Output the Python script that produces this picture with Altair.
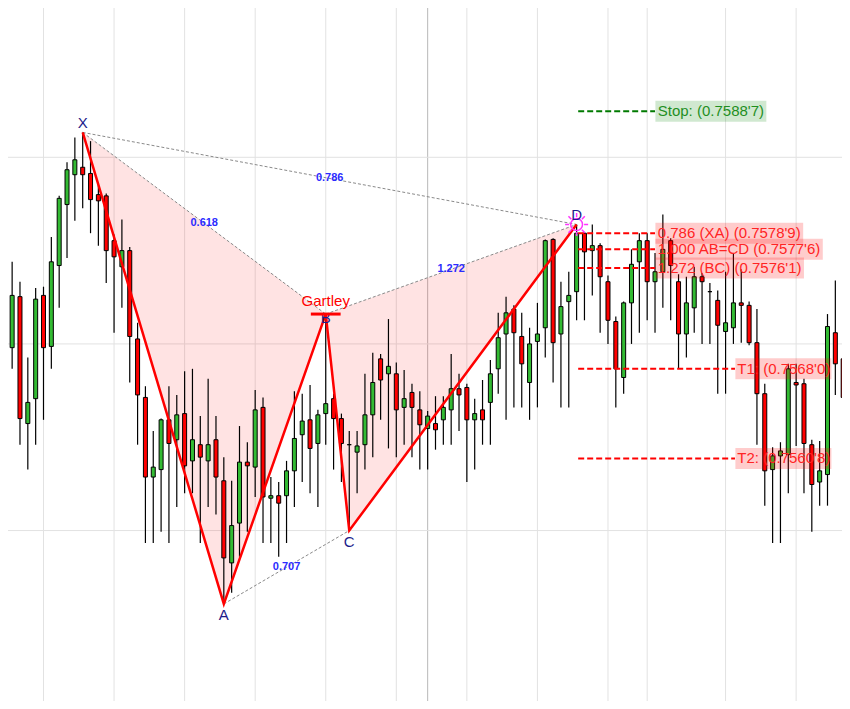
import altair as alt
import pandas as pd

# ---------------- candle data (price) ----------------
opens = [0.75680, 0.75697, 0.75738, 0.75636, 0.75656, 0.75739, 0.75698, 0.75763, 0.75812, 0.75836,
         0.75842, 0.75837, 0.75820, 0.75819, 0.75783, 0.75762, 0.75775, 0.75704, 0.75657, 0.75593,
         0.75599, 0.75639, 0.75623, 0.75644, 0.75606, 0.75619, 0.75606, 0.75623, 0.75590, 0.75524,
         0.75556, 0.75605, 0.75601, 0.75649, 0.75576, 0.75578, 0.75578, 0.75598, 0.75627, 0.75639,
         0.75620, 0.75644, 0.75656, 0.75640, 0.75619, 0.75613, 0.75619, 0.75643, 0.75688, 0.75676,
         0.75676, 0.75649, 0.75661, 0.75647, 0.75632, 0.75636, 0.75639, 0.75647, 0.75664, 0.75665,
         0.75639, 0.75647, 0.75653, 0.75680, 0.75708, 0.75728, 0.75706, 0.75669, 0.75702, 0.75713,
         0.75784, 0.75708, 0.75734, 0.75742, 0.75789, 0.75775, 0.75779, 0.75750, 0.75718, 0.75673,
         0.75733, 0.75766, 0.75783, 0.75750, 0.75758, 0.75783, 0.75750, 0.75708, 0.75729, 0.75754,
         0.75742, 0.75735, 0.75710, 0.75713, 0.75733, 0.75731, 0.75701, 0.75660, 0.75599, 0.75610,
         0.75611, 0.75669, 0.75668, 0.75619, 0.75589, 0.75595, 0.75709, 0.75688, 0.75657]
highs = [0.75701, 0.75766, 0.75750, 0.75689, 0.75745, 0.75746, 0.75786, 0.75819, 0.75846, 0.75866,
         0.75870, 0.75863, 0.75829, 0.75821, 0.75788, 0.75800, 0.75778, 0.75717, 0.75666, 0.75630,
         0.75640, 0.75666, 0.75659, 0.75678, 0.75680, 0.75642, 0.75672, 0.75642, 0.75609, 0.75590,
         0.75634, 0.75621, 0.75663, 0.75657, 0.75593, 0.75589, 0.75606, 0.75662, 0.75660, 0.75667,
         0.75647, 0.75724, 0.75660, 0.75644, 0.75630, 0.75630, 0.75676, 0.75693, 0.75692, 0.75720,
         0.75685, 0.75679, 0.75668, 0.75662, 0.75646, 0.75658, 0.75658, 0.75692, 0.75676, 0.75668,
         0.75656, 0.75671, 0.75687, 0.75725, 0.75738, 0.75731, 0.75725, 0.75713, 0.75733, 0.75784,
         0.75785, 0.75750, 0.75758, 0.75796, 0.75790, 0.75796, 0.75781, 0.75755, 0.75722, 0.75734,
         0.75776, 0.75789, 0.75789, 0.75773, 0.75804, 0.75785, 0.75756, 0.75754, 0.75762, 0.75757,
         0.75749, 0.75743, 0.75758, 0.75773, 0.75760, 0.75734, 0.75728, 0.75668, 0.75617, 0.75621,
         0.75684, 0.75684, 0.75672, 0.75623, 0.75622, 0.75724, 0.75751, 0.75690, 0.75703]
lows = [0.75619, 0.75680, 0.75619, 0.75599, 0.75619, 0.75639, 0.75680, 0.75729, 0.75769, 0.75799,
        0.75809, 0.75789, 0.75779, 0.75749, 0.75709, 0.75729, 0.75669, 0.75619, 0.75540, 0.75540,
        0.75549, 0.75540, 0.75569, 0.75580, 0.75580, 0.75540, 0.75569, 0.75563, 0.75491, 0.75500,
        0.75529, 0.75549, 0.75577, 0.75540, 0.75540, 0.75529, 0.75540, 0.75569, 0.75589, 0.75580,
        0.75569, 0.75619, 0.75599, 0.75589, 0.75550, 0.75580, 0.75599, 0.75609, 0.75639, 0.75616,
        0.75609, 0.75619, 0.75609, 0.75599, 0.75599, 0.75615, 0.75619, 0.75619, 0.75630, 0.75589,
        0.75599, 0.75619, 0.75619, 0.75660, 0.75639, 0.75649, 0.75649, 0.75639, 0.75649, 0.75689,
        0.75669, 0.75649, 0.75649, 0.75719, 0.75719, 0.75739, 0.75709, 0.75700, 0.75649, 0.75660,
        0.75700, 0.75709, 0.75719, 0.75709, 0.75729, 0.75719, 0.75680, 0.75689, 0.75709, 0.75700,
        0.75700, 0.75660, 0.75660, 0.75700, 0.75701, 0.75699, 0.75619, 0.75570, 0.75540, 0.75540,
        0.75580, 0.75618, 0.75580, 0.75549, 0.75570, 0.75570, 0.75659, 0.75620, 0.75639]
closes = [0.75696, 0.75739, 0.75640, 0.75653, 0.75736, 0.75697, 0.75766, 0.75817, 0.75840, 0.75848,
          0.75836, 0.75816, 0.75815, 0.75775, 0.75770, 0.75775, 0.75706, 0.75659, 0.75593, 0.75601,
          0.75639, 0.75620, 0.75643, 0.75602, 0.75623, 0.75609, 0.75619, 0.75593, 0.75528, 0.75554,
          0.75605, 0.75602, 0.75647, 0.75577, 0.75578, 0.75572, 0.75598, 0.75624, 0.75638, 0.75616,
          0.75643, 0.75652, 0.75640, 0.75620, 0.75619, 0.75618, 0.75643, 0.75669, 0.75671, 0.75682,
          0.75647, 0.75656, 0.75649, 0.75635, 0.75642, 0.75631, 0.75649, 0.75664, 0.75659, 0.75639,
          0.75644, 0.75639, 0.75676, 0.75705, 0.75725, 0.75709, 0.75684, 0.75700, 0.75708, 0.75783,
          0.75701, 0.75730, 0.75739, 0.75789, 0.75774, 0.75779, 0.75754, 0.75719, 0.75680, 0.75733,
          0.75764, 0.75783, 0.75750, 0.75758, 0.75776, 0.75763, 0.75708, 0.75733, 0.75754, 0.75750,
          0.75742, 0.75715, 0.75717, 0.75733, 0.75731, 0.75701, 0.75660, 0.75598, 0.75610, 0.75614,
          0.75680, 0.75667, 0.75620, 0.75587, 0.75598, 0.75714, 0.75684, 0.75657, 0.75698]

# ---------------- harmonic pattern ----------------
pat_names = ["X", "A", "B", "C", "D"]
pat_idx = [10, 28, 41, 44, 73]
pat_price = [0.75870, 0.75491, 0.75724, 0.75550, 0.75796]
pat_pos = ["above", "below", "on", "below", "above"]

ratio_text = ["0.618", "0.786", "0.707", "1.272"]
ratio_from = ["X", "X", "A", "B"]
ratio_to = ["B", "D", "C", "D"]

# ---------------- trade levels ----------------
level_text = ["Stop: (0.7588'7)", "0.786 (XA) (0.7578'9)", "1.000 AB=CD (0.7577'6)",
              "1.272 (BC) (0.7576'1)", "T1: (0.7568'0)", "T2: (0.7560'8)"]
level_price = [0.75887, 0.75789, 0.75776, 0.75761, 0.75680, 0.75608]
level_kind = ["stop", "fib", "fib", "fib", "target", "target"]

# ---------------- grid ----------------
grid_x = [5, 14, 23, 32, 41, 50, 59, 68, 77, 82, 92, 101]
grid_x_dark = [54]
grid_y = [0.7585, 0.7570, 0.7555]

# ---------------- layout / style constants ----------------
X_DOM = [0.472, 106.85]
Y_DOM = [0.75413, 0.75970]
FONT = "Liberation Sans"
LEVEL_START = 73.2
LINE_END = {"stop": 83.0, "fib": 83.0, "target": 93.2}
TEXT_X = {"stop": 83.35, "fib": 83.35, "target": 93.5}
BOX_END = [97.2, 101.9, 104.4, 102.0, 105.5, 105.5]
LINE_COLOR = {"stop": "#007a00", "fib": "#ff0000", "target": "#ff0000"}
BOX_COLOR = {"stop": "#168a16", "fib": "#ff0000", "target": "#ff0000"}
TEXT_COLOR = {"stop": "#1f8f1f", "fib": "#ff2424", "target": "#ff2424"}
DIR_COLOR = {"up": "#33bb33", "down": "#ff0000", "flat": "#000000"}

xs = alt.Scale(domain=X_DOM, nice=False, zero=False, padding=0)
ys = alt.Scale(domain=Y_DOM, nice=False, zero=False, padding=0)


def X(f):
    return alt.X(f, scale=xs, axis=None)


def Y(f):
    return alt.Y(f, scale=ys, axis=None)


# candles table
dirs = ["up" if c > o else ("down" if c < o else "flat") for o, c in zip(opens, closes)]
candles = pd.DataFrame({"i": list(range(len(opens))), "open": opens, "high": highs,
                        "low": lows, "close": closes, "dir": dirs,
                        "fillc": [DIR_COLOR[d] for d in dirs]})

# pattern tables
pat = pd.DataFrame({"name": pat_names, "i": pat_idx, "p": pat_price, "pos": pat_pos})
pmap = {n: (i, p) for n, i, p in zip(pat_names, pat_idx, pat_price)}

seg_rows = []
for t, a, b in zip(ratio_text, ratio_from, ratio_to):
    (ia, pa), (ib, pb) = pmap[a], pmap[b]
    seg_rows.append({"i": ia, "p": pa, "i2": ib, "p2": pb, "text": t,
                     "mi": (ia + ib) / 2, "mp": (pa + pb) / 2})
segs = pd.DataFrame(seg_rows)


def tri_rows(name, a, m, b):
    (ia, pa), (im, pm), (ib, pb) = pmap[a], pmap[m], pmap[b]
    up_m = pa + (pb - pa) * (im - ia) / (ib - ia)
    return [{"tri": name, "i": ia, "upper": pa, "lower": pa},
            {"tri": name, "i": im, "upper": up_m, "lower": pm},
            {"tri": name, "i": ib, "upper": pb, "lower": pb}]


tris = pd.DataFrame(tri_rows("XAB", "X", "A", "B") + tri_rows("BCD", "B", "C", "D"))

levels = pd.DataFrame({
    "text": level_text, "p": level_price, "kind": level_kind,
    "x0": [LEVEL_START] * len(level_text),
    "x1": [LINE_END[k] for k in level_kind],
    "tx": [TEXT_X[k] for k in level_kind],
    "bx0": [LINE_END[k] + 0.05 for k in level_kind],
    "bx1": BOX_END,
    "lc": [LINE_COLOR[k] for k in level_kind],
    "bc": [BOX_COLOR[k] for k in level_kind],
    "tc": [TEXT_COLOR[k] for k in level_kind],
})

gx = pd.DataFrame({"i": grid_x})
gxd = pd.DataFrame({"i": grid_x_dark})
gy = pd.DataFrame({"p": grid_y})

# ---------------- layers ----------------
grid_v = alt.Chart(gx).mark_rule(color="#e2e2e2", strokeWidth=1).encode(x=X("i:Q"))
grid_vd = alt.Chart(gxd).mark_rule(color="#b8b8b8", strokeWidth=1).encode(x=X("i:Q"))
grid_h = alt.Chart(gy).mark_rule(color="#e2e2e2", strokeWidth=1).encode(y=Y("p:Q"))

fill = alt.Chart(tris).mark_area(color="#ff0000", opacity=0.11).encode(
    x=X("i:Q"), y=Y("upper:Q"), y2="lower:Q", detail="tri:N")

wicks = alt.Chart(candles).mark_rule(color="black", strokeWidth=1.2).encode(
    x=X("i:Q"), y=Y("low:Q"), y2="high:Q")
bodies = alt.Chart(candles).mark_bar(size=4, stroke="black", strokeWidth=1).encode(
    x=X("i:Q"), y=Y("open:Q"), y2="close:Q",
    fill=alt.Fill("fillc:N", scale=None))

dotted = alt.Chart(segs).mark_rule(color="#8a8a8a", strokeDash=[3, 2], strokeWidth=1).encode(
    x=X("i:Q"), y=Y("p:Q"), x2="i2:Q", y2="p2:Q")

zigzag = alt.Chart(pat).mark_line(color="#ff0000", strokeWidth=2.5).encode(
    x=X("i:Q"), y=Y("p:Q"), order="i:Q")

ratios = alt.Chart(segs).mark_text(font=FONT, fontSize=11, fontWeight="bold",
                                   color="#2b2bff").encode(
    x=X("mi:Q"), y=Y("mp:Q"), text="text:N")

level_lines = alt.Chart(levels).mark_rule(strokeWidth=2, strokeDash=[6, 3]).encode(
    x=X("x0:Q"), x2="x1:Q", y=Y("p:Q"),
    stroke=alt.Stroke("lc:N", scale=None))

level_boxes = alt.Chart(levels).mark_rule(strokeWidth=21, strokeCap="butt", opacity=0.2).encode(
    x=X("bx0:Q"), x2="bx1:Q", y=Y("p:Q"),
    stroke=alt.Stroke("bc:N", scale=None))

level_texts = alt.Chart(levels).mark_text(font=FONT, fontSize=15, align="left",
                                          baseline="middle").encode(
    x=X("tx:Q"), y=Y("p:Q"), text="text:N",
    fill=alt.Fill("tc:N", scale=None))

d_pt = pat[pat["name"] == "D"]
ray_path = ("M0.65,0L1,0M-0.65,0L-1,0M0,0.65L0,1M0,-0.65L0,-1"
            "M0.46,0.46L0.71,0.71M-0.46,0.46L-0.71,0.71M-0.46,-0.46L-0.71,-0.71M0.46,-0.46L0.71,-0.71")
d_circle = alt.Chart(d_pt).mark_point(shape="circle", size=140, filled=False,
                                      stroke="#ff33ff", strokeWidth=1.5, opacity=1).encode(
    x=X("i:Q"), y=Y("p:Q"))
d_rays = alt.Chart(d_pt).mark_point(shape=ray_path, size=530, filled=False,
                                    stroke="#ff33ff", strokeWidth=1.5, opacity=1).encode(
    x=X("i:Q"), y=Y("p:Q"))

lab_above = alt.Chart(pat).transform_filter(alt.datum.pos == "above").mark_text(
    font=FONT, fontSize=15, color="#1c1c8a", dy=-9).encode(x=X("i:Q"), y=Y("p:Q"), text="name:N")
lab_below = alt.Chart(pat).transform_filter(alt.datum.pos == "below").mark_text(
    font=FONT, fontSize=15, color="#1c1c8a", dy=11).encode(x=X("i:Q"), y=Y("p:Q"), text="name:N")
lab_on = alt.Chart(pat).transform_filter(alt.datum.pos == "on").mark_text(
    font=FONT, fontSize=15, color="#1c1c8a", dy=4).encode(x=X("i:Q"), y=Y("p:Q"), text="name:N")

b_pt = pat[pat["name"] == "B"].assign(i0=lambda d: d["i"] - 1.9, i1=lambda d: d["i"] + 1.9,
                                      label="Gartley")
gart_bar = alt.Chart(b_pt).mark_rule(color="#ff0000", strokeWidth=3).encode(
    x=X("i0:Q"), x2="i1:Q", y=Y("p:Q"))
gart_text = alt.Chart(b_pt).mark_text(font=FONT, fontSize=15, color="#ff0000", dy=-13).encode(
    x=X("i:Q"), y=Y("p:Q"), text="label:N")

chart = alt.layer(
    grid_v, grid_vd, grid_h, fill, wicks, bodies, dotted, zigzag, ratios,
    level_lines, level_boxes, level_texts, d_circle, d_rays,
    lab_above, lab_below, lab_on, gart_bar, gart_text
).properties(
    width=834, height=693, padding=0, autosize="none", background="white"
).configure_view(strokeWidth=0)

chart.save("out.html", embed_options={"renderer": "svg", "actions": False})
